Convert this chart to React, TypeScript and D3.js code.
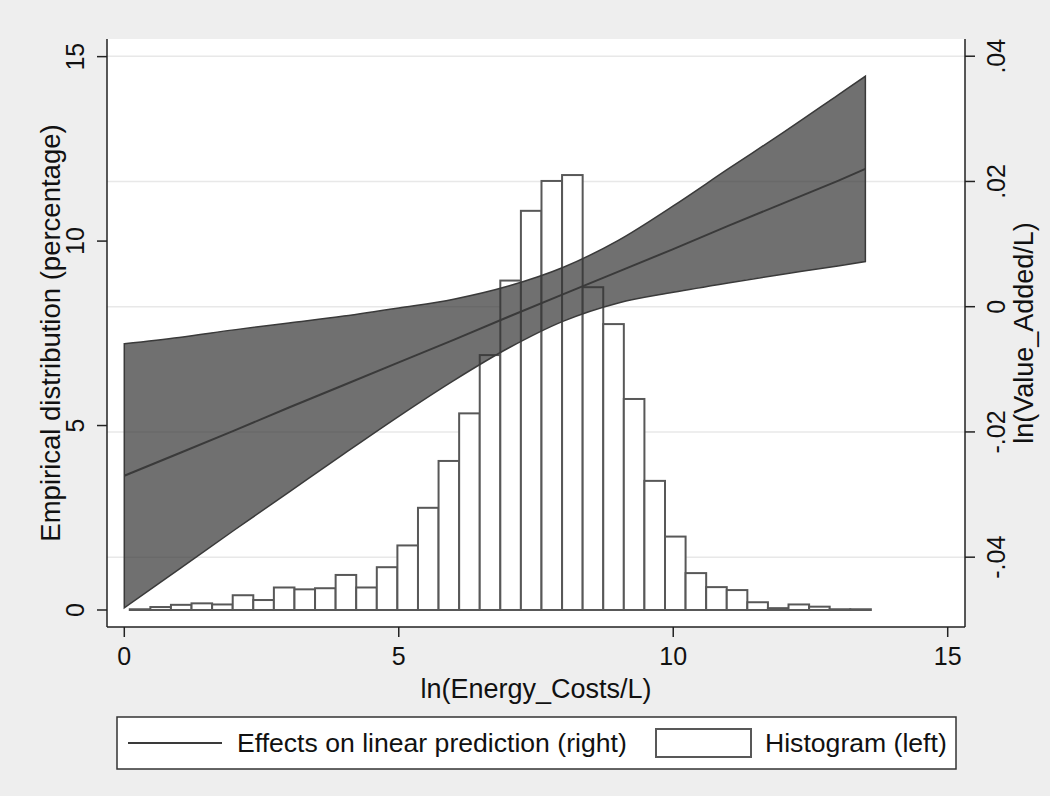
import React from 'react';
import * as d3 from 'd3';

// Histogram (left axis, percentage)
const histBinStart = 0.1;
const histBinWidth = 0.375;
const histPercent = [
  0.02, 0.08, 0.14, 0.18, 0.15, 0.40, 0.27, 0.61, 0.56, 0.59, 0.95, 0.61,
  1.16, 1.75, 2.77, 4.04, 5.33, 6.91, 8.93, 10.82, 11.63, 11.79, 8.75, 7.75,
  5.72, 3.50, 1.99, 1.00, 0.62, 0.54, 0.21, 0.05, 0.15, 0.09, 0.02, 0.02,
];

// Linear prediction effect with confidence band (right axis)
const predX = [0, 1, 2, 3, 4, 5, 6, 7, 8, 9, 10, 11, 12, 13, 13.5];
const predFit = [-0.0270, -0.0234, -0.0198, -0.0161, -0.0125, -0.0089, -0.0053, -0.0016, 0.0020, 0.0056, 0.0092, 0.0129, 0.0165, 0.0201, 0.0220];
const predLo = [-0.0481, -0.0419, -0.0357, -0.0296, -0.0235, -0.0175, -0.0118, -0.0066, -0.0023, 0.0006, 0.0023, 0.0038, 0.0052, 0.0065, 0.0072];
const predHi = [-0.0059, -0.0049, -0.0037, -0.0026, -0.0015, -0.0002, 0.0012, 0.0033, 0.0063, 0.0106, 0.0161, 0.0220, 0.0278, 0.0338, 0.0368];

const xTicks = [0, 5, 10, 15];
const leftTicks = [0, 5, 10, 15];
const rightTicks = [-0.04, -0.02, 0, 0.02, 0.04];

const xTitle = 'ln(Energy_Costs/L)';
const leftTitle = 'Empirical distribution (percentage)';
const rightTitle = 'ln(Value_Added/L)';
const legendLine = 'Effects on linear prediction (right)';
const legendHist = 'Histogram (left)';

const W = 1050;
const H = 796;
const PL = 107, PR = 965, PT = 39, PB = 627;
const FONT = '"Liberation Sans", Arial, Helvetica, sans-serif';

function fmtRight(v: number): string {
  if (Math.abs(v) < 1e-9) return '0';
  return d3.format('.2f')(v).replace('\u2212', '-').replace('0.', '.');
}

export default function App() {
  const x = d3.scaleLinear().domain([-0.315, 15.315]).range([PL, PR]);
  const yL = d3.scaleLinear().domain([-0.461, 15.478]).range([PB, PT]);
  const yR = d3.scaleLinear().domain([-0.05115, 0.04275]).range([PB, PT]);

  const pred = predX.map((px, i) => ({ x: px, fit: predFit[i], lo: predLo[i], hi: predHi[i] }));

  const area = d3
    .area<{ x: number; fit: number; lo: number; hi: number }>()
    .x((d) => x(d.x))
    .y0((d) => yR(d.lo))
    .y1((d) => yR(d.hi))
    .curve(d3.curveCatmullRom.alpha(0.5));
  const line = d3
    .line<{ x: number; fit: number }>()
    .x((d) => x(d.x))
    .y((d) => yR(d.fit));

  const bars = histPercent.map((v, i) => {
    const x0 = histBinStart + i * histBinWidth;
    const x1 = x0 + histBinWidth;
    return { x0, x1, v };
  });

  const midY = (PT + PB) / 2;
  const midX = (PL + PR) / 2;

  return (
    <svg
      width={W}
      height={H}
      viewBox={`0 0 ${W} ${H}`}
      style={{ position: 'absolute', left: 0, top: 0, fontFamily: FONT }}
    >
      <rect x={0} y={0} width={W} height={H} fill="#eeeeee" />
      <rect x={PL} y={PT} width={PR - PL} height={PB - PT} fill="#ffffff" />

      {/* gridlines at right-axis ticks */}
      {rightTicks.map((t) => (
        <line key={'g' + t} x1={PL} x2={PR} y1={yR(t)} y2={yR(t)} stroke="#e8e8e8" strokeWidth={1.6} />
      ))}

      {/* histogram */}
      {bars.map((b, i) => (
        <rect
          key={'b' + i}
          x={x(b.x0)}
          y={yL(b.v)}
          width={x(b.x1) - x(b.x0)}
          height={yL(0) - yL(b.v)}
          fill="#ffffff"
          stroke="#585858"
          strokeWidth={2}
        />
      ))}

      {/* confidence band */}
      <path d={area(pred) || ''} fill="#333333" fillOpacity={0.7} stroke="#3a3a3a" strokeWidth={1.5} />
      <path d={line(pred) || ''} fill="none" stroke="#3a3a3a" strokeWidth={2} />

      {/* axes */}
      <line x1={PL} x2={PL} y1={PT} y2={PB} stroke="#222" strokeWidth={1.5} />
      <line x1={PR} x2={PR} y1={PT} y2={PB} stroke="#222" strokeWidth={1.5} />
      <line x1={PL} x2={PR} y1={PB} y2={PB} stroke="#222" strokeWidth={1.5} />

      {xTicks.map((t) => (
        <g key={'xt' + t}>
          <line x1={x(t)} x2={x(t)} y1={PB} y2={PB + 10} stroke="#222" strokeWidth={1.5} />
          <text x={x(t)} y={665} textAnchor="middle" fontSize={25} fill="#111">
            {t}
          </text>
        </g>
      ))}
      {leftTicks.map((t) => (
        <g key={'lt' + t}>
          <line x1={PL - 10} x2={PL} y1={yL(t)} y2={yL(t)} stroke="#222" strokeWidth={1.5} />
          <text
            transform={`translate(${84},${yL(t)}) rotate(-90)`}
            textAnchor="middle"
            fontSize={25}
            fill="#111"
          >
            {t}
          </text>
        </g>
      ))}
      {rightTicks.map((t) => (
        <g key={'rt' + t}>
          <line x1={PR} x2={PR + 10} y1={yR(t)} y2={yR(t)} stroke="#222" strokeWidth={1.5} />
          <text
            transform={`translate(${1005},${yR(t)}) rotate(-90)`}
            textAnchor="middle"
            fontSize={25}
            fill="#111"
          >
            {fmtRight(t)}
          </text>
        </g>
      ))}

      {/* axis titles */}
      <text x={midX} y={698} textAnchor="middle" fontSize={27} fill="#111">
        {xTitle}
      </text>
      <text transform={`translate(${60},${midY}) rotate(-90)`} textAnchor="middle" fontSize={27.5} fill="#111">
        {leftTitle}
      </text>
      <text transform={`translate(${1033},${midY}) rotate(-90)`} textAnchor="middle" fontSize={27} fill="#111">
        {rightTitle}
      </text>

      {/* legend */}
      <rect x={117} y={717} width={839} height={52} fill="#ffffff" stroke="#333" strokeWidth={1.5} />
      <line x1={128} x2={222} y1={743} y2={743} stroke="#3a3a3a" strokeWidth={2} />
      <text x={237} y={752} fontSize={26.6} fill="#111">
        {legendLine}
      </text>
      <rect x={656} y={729} width={95} height={28} fill="#ffffff" stroke="#585858" strokeWidth={2} />
      <text x={765} y={752} fontSize={26.6} fill="#111">
        {legendHist}
      </text>
    </svg>
  );
}
